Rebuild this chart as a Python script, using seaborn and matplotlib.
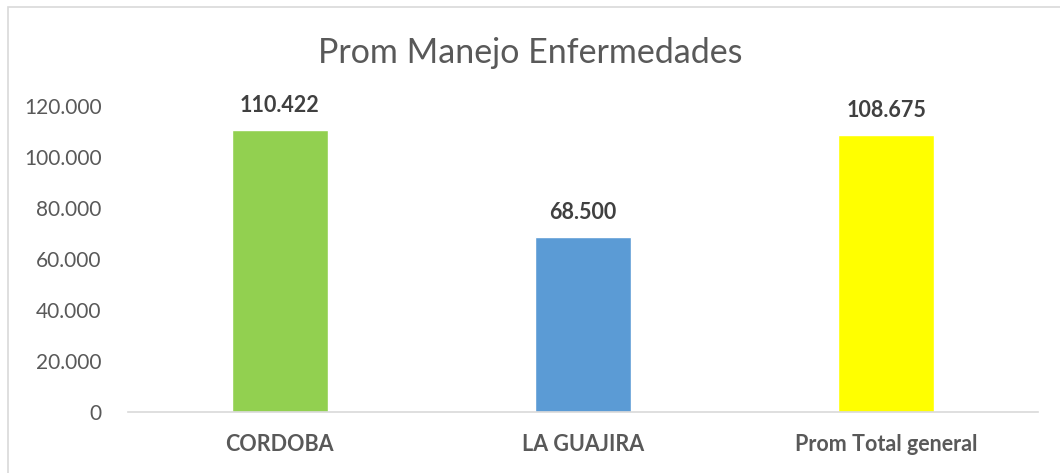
import matplotlib
matplotlib.use("Agg")
import matplotlib.pyplot as plt
import seaborn as sns
import pandas as pd
from matplotlib.patches import Rectangle
from matplotlib.ticker import FuncFormatter

categories = ["CORDOBA", "LA GUAJIRA", "Prom Total general"]
values = [110422, 68500, 108675]
value_labels = ["110.422", "68.500", "108.675"]
colors = ["#92D050", "#5B9BD5", "#FFFF00"]
title = "Prom Manejo Enfermedades"

sns.set_theme(style="white")
plt.rcParams["font.family"] = ["Lato", "DejaVu Sans"]

df = pd.DataFrame({"cat": categories, "val": values})

fig = plt.figure(figsize=(10.6, 4.73), dpi=100)
ax = fig.add_axes([0.1208, 0.129, 0.979 - 0.1208, 0.776 - 0.129])
sns.barplot(data=df, x="cat", y="val", hue="cat", palette=colors, legend=False,
            width=0.316, saturation=1, ax=ax)

ax.set_xlim(-0.5, 2.5)
ax.set_ylim(0, 120000)
ax.set_yticks(range(0, 120001, 20000))
ax.yaxis.set_major_formatter(FuncFormatter(lambda v, p: "0" if v == 0 else f"{int(v):,}".replace(",", ".")))
ax.tick_params(axis="y", labelsize=15, labelcolor="#595959", length=0, pad=19)
ax.tick_params(axis="x", labelsize=15.5, labelcolor="#595959", length=0, pad=16)
for lbl in ax.get_xticklabels():
    lbl.set_fontweight("bold")
ax.set_xlabel("")
ax.set_ylabel("")
for s in ["top", "right", "left"]:
    ax.spines[s].set_visible(False)
ax.spines["bottom"].set_color("#D9D9D9")
ax.spines["bottom"].set_linewidth(1.2)

for i, (v, t) in enumerate(zip(values, value_labels)):
    ax.annotate(t, (i, v), xytext=(0, 10), textcoords="offset points",
                ha="center", va="bottom", fontsize=15.5, fontweight="bold", color="#404040")

fig.text(0.5, 1 - 53 / 473, title, ha="center", va="center", fontsize=24.5, color="#595959")

fig.patches.append(Rectangle((8 / 1060, -0.05), 1.2, 1 - 7 / 473 + 0.05, transform=fig.transFigure,
                             fill=False, edgecolor="#D9D9D9", linewidth=1.2))

fig.savefig("out.png", dpi=100, facecolor="white")
